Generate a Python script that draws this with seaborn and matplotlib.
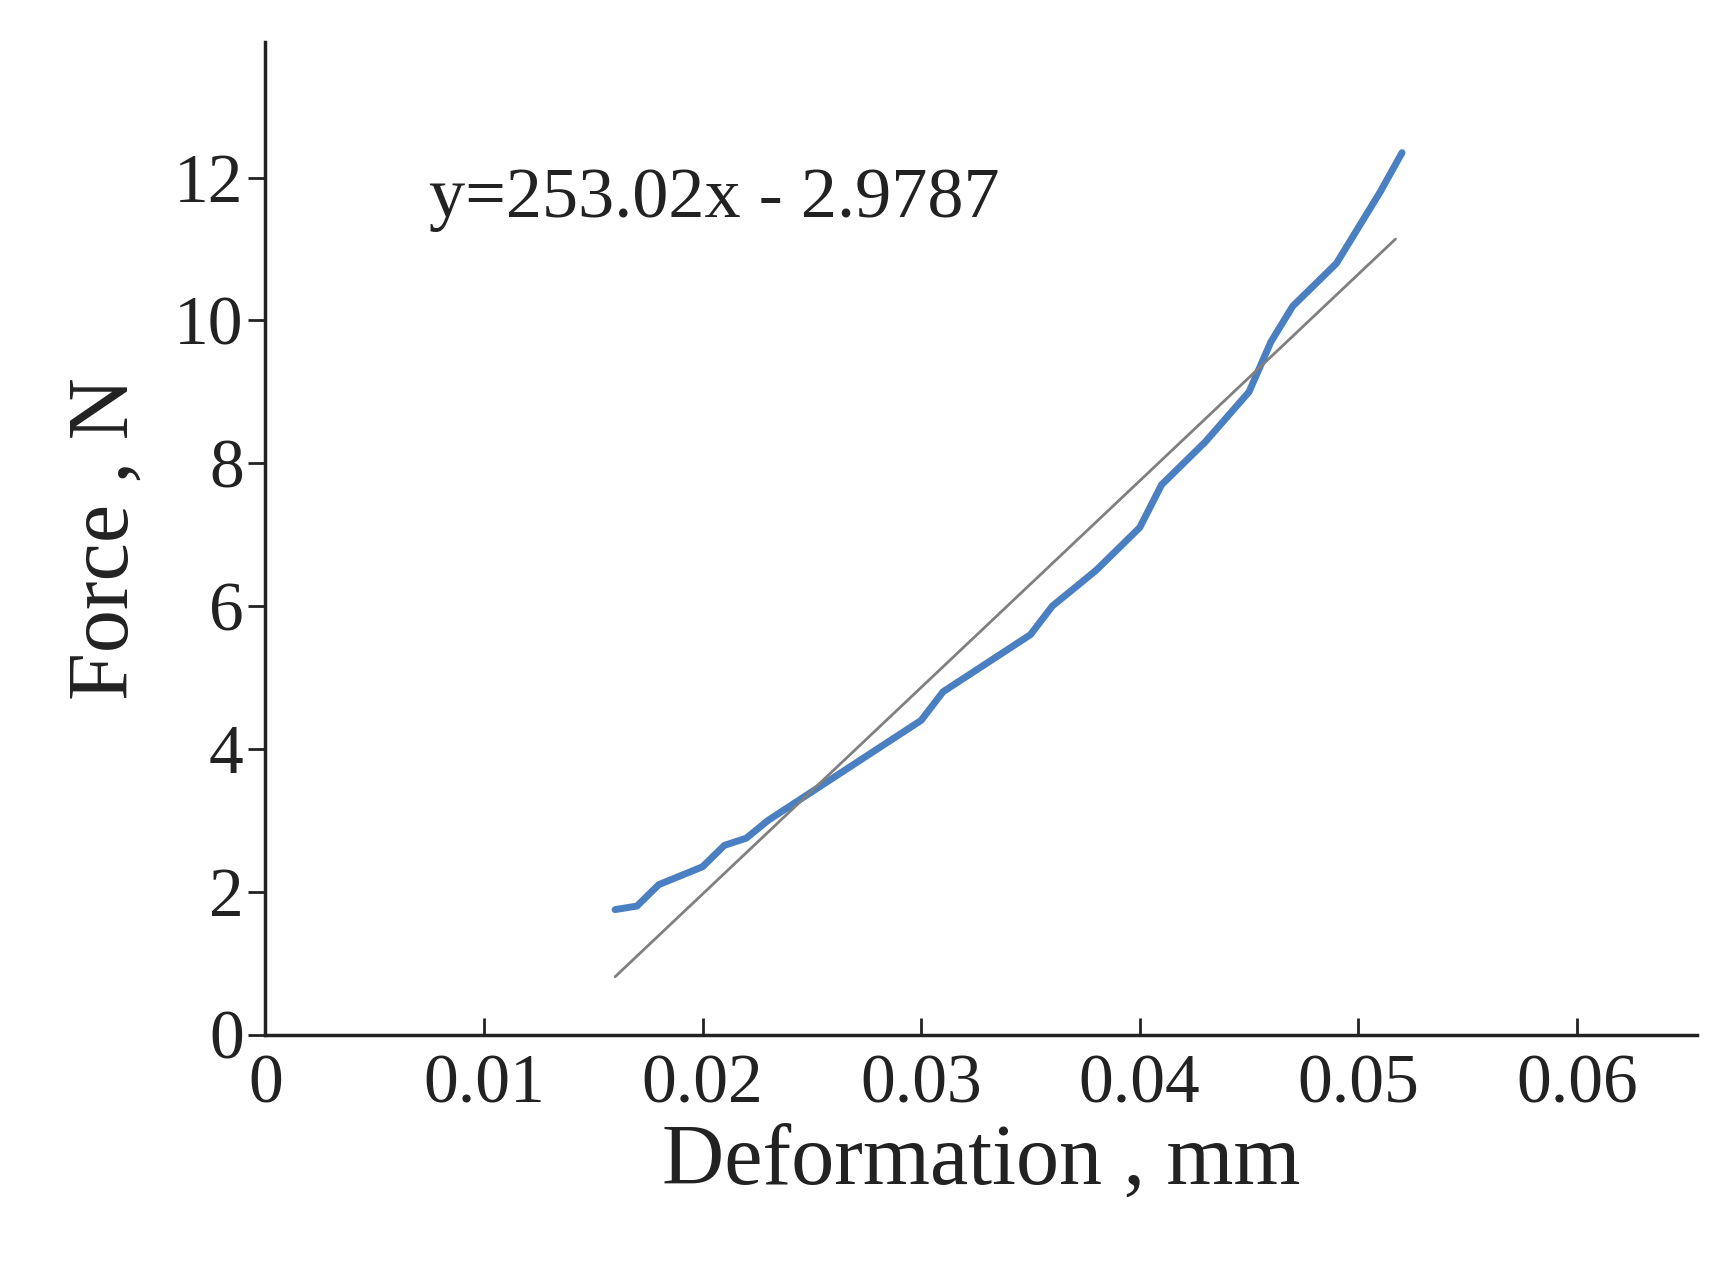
import matplotlib
matplotlib.use("Agg")
import matplotlib.pyplot as plt
import seaborn as sns
import pandas as pd

deformation = [0.016, 0.017, 0.018, 0.020, 0.021, 0.022, 0.023, 0.025, 0.027, 0.028, 0.030, 0.031,
               0.033, 0.035, 0.036, 0.038, 0.040, 0.041, 0.043, 0.045, 0.046, 0.047, 0.049, 0.050, 0.051, 0.052]
force = [1.75, 1.8, 2.1, 2.35, 2.65, 2.75, 3.0, 3.4, 3.8, 4.0, 4.4, 4.8,
         5.2, 5.6, 6.0, 6.5, 7.1, 7.7, 8.3, 9.0, 9.7, 10.2, 10.8, 11.3, 11.8, 12.35]
fit_x = [0.016, 0.0517]
fit_y = [0.81, 11.14]
equation = "y=253.02x - 2.9787"

sns.set_style("ticks")
plt.rcParams['font.family'] = ['Liberation Serif', 'DejaVu Serif']

fig = plt.figure(figsize=(17.23, 12.71), dpi=100)
ax = fig.add_axes([0.154, 0.186, 0.831, 0.781])

df = pd.DataFrame({"x": deformation, "y": force})
sns.lineplot(data=df, x="x", y="y", ax=ax, color="#4a7fc1", linewidth=5)
sns.lineplot(x=fit_x, y=fit_y, ax=ax, color="#808080", linewidth=2)

ax.set_xlim(0, 0.0655)
ax.set_ylim(0, 13.9)
ax.set_xticks([0, 0.01, 0.02, 0.03, 0.04, 0.05, 0.06])
ax.set_xticklabels(["0", "0.01", "0.02", "0.03", "0.04", "0.05", "0.06"])
ax.set_yticks([0, 2, 4, 6, 8, 10, 12])
ax.tick_params(axis='x', direction='in', length=12, width=2, labelsize=50, pad=14, colors="#222222")
ax.tick_params(axis='y', direction='out', length=12, width=2, labelsize=50, colors="#222222")
for s in ["top", "right"]:
    ax.spines[s].set_visible(False)
for s in ["left", "bottom"]:
    ax.spines[s].set_linewidth(2.5)
    ax.spines[s].set_color("#222222")

ax.set_xlabel("Deformation , mm", fontsize=62, color="#222222")
ax.set_ylabel("Force , N", fontsize=62, labelpad=20, color="#222222")
ax.text(0.0075, 11.45, equation, fontsize=52, color="#222222")

fig.savefig("out.png", dpi=100)
